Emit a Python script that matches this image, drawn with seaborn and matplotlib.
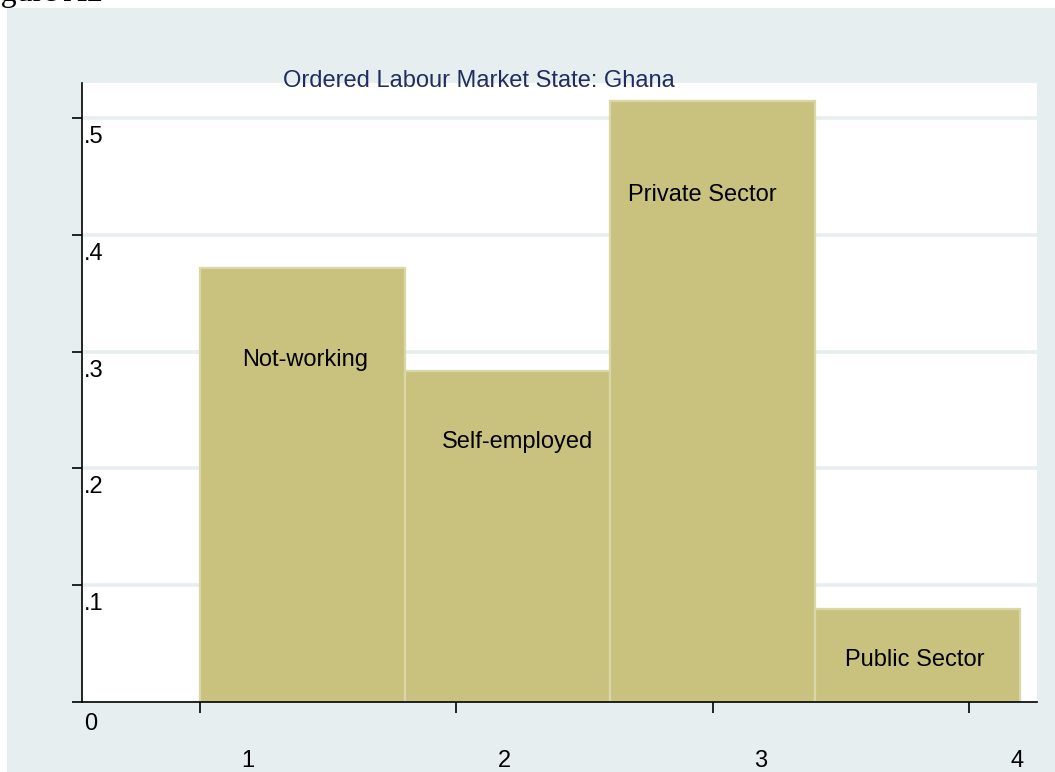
import matplotlib
matplotlib.use("Agg")
import matplotlib.pyplot as plt
from matplotlib.patches import Rectangle
from matplotlib.transforms import ScaledTranslation
import seaborn as sns

# Daten (Anteile je Arbeitsmarktstatus)
states = [1, 2, 3, 4]
shares = [0.297, 0.227, 0.412, 0.064]
state_names = ["Not-working", "Self-employed", "Private Sector", "Public Sector"]
name_x = [1.41, 2.24, 2.96, 3.79]
name_y = [0.293, 0.223, 0.434, 0.036]

x_ticks = [1, 2, 3, 4]
x_tick_labels = ["1", "2", "3", "4"]
y_ticks = [0, 0.1, 0.2, 0.3, 0.4, 0.5]
y_tick_labels = ["0", ".1", ".2", ".3", ".4", ".5"]

title = "Ordered Labour Market State: Ghana"

panel_col = "#E7EEF0"
bar_col = "#C9C27F"
edge_col = "#DAD6A6"

sns.set_theme(style="white")
plt.rcParams["font.family"] = ["Liberation Sans", "DejaVu Sans"]

fig = plt.figure(figsize=(10.55, 7.72), dpi=100, facecolor="white")
W, H = 1055, 772

# Hintergrund-Panel (hinter den Achsen)
fig.patches.append(Rectangle((7 / W, 0), 1, 1 - 8 / H, transform=fig.transFigure,
                             facecolor=panel_col, edgecolor="none", zorder=-5))

ax = fig.add_axes([82 / W, 1 - 702 / H, (1037 - 82) / W, (702 - 83) / H])
ax.set_zorder(1)
ax.set_facecolor("white")

sns.histplot(x=states, weights=shares, binwidth=0.8, binrange=(1, 4.2), stat="density",
             color=bar_col, edgecolor=edge_col, linewidth=1.6, alpha=1, ax=ax)

ax.set_xlim(0.539, 4.266)
ax.set_ylim(0, 0.530)
ax.set_xlabel("")
ax.set_ylabel("")

# Gitter
ax.set_axisbelow(True)
for yv in y_ticks[1:]:
    ax.axhline(yv, color=panel_col, lw=2.6, zorder=0.5)

for s in ["top", "right"]:
    ax.spines[s].set_visible(False)
for s in ["left", "bottom"]:
    ax.spines[s].set_color("black")
    ax.spines[s].set_linewidth(1.2)

ax.set_xticks(x_ticks)
ax.set_xticklabels(x_tick_labels, fontsize=17)
ax.set_yticks(y_ticks)
ax.set_yticklabels(y_tick_labels, fontsize=17)
ax.tick_params(axis="x", bottom=True, direction="out", length=7.9, width=1.2, pad=26.5,
               colors="black")
ax.tick_params(axis="y", left=True, direction="out", length=7.2, width=1.2, pad=0,
               colors="black")

# Beschriftungen verschieben wie im Original
for lab in ax.get_xticklabels():
    lab.set_transform(lab.get_transform() + ScaledTranslation(0.48, 0, fig.dpi_scale_trans))
for lab in ax.get_yticklabels():
    lab.set_ha("left")
    dy = -0.20 if lab.get_text() == "0" else -0.165
    lab.set_transform(lab.get_transform() + ScaledTranslation(0.12, dy, fig.dpi_scale_trans))

for nx, ny, nm in zip(name_x, name_y, state_names):
    ax.text(nx, ny, nm, ha="center", va="center", fontsize=17, color="black")

fig.text(479 / W, 1 - 87 / H, title, ha="center", va="baseline", fontsize=17, color="#1F2E5E",
         zorder=5)
fig.text(-26 / W, 1 - 1 / H, "Figure A2", ha="left", va="baseline", fontsize=23,
         family=["Liberation Serif", "DejaVu Serif"], color="black")

fig.savefig("out.png", dpi=100, facecolor="white")
